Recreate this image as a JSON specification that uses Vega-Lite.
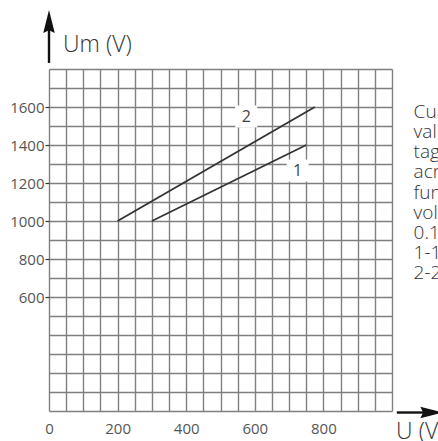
{
  "$schema": "https://vega.github.io/schema/vega-lite/v6.json",
  "autosize": "none",
  "width": 343,
  "height": 342,
  "padding": {"left": 49, "top": 69, "right": 46, "bottom": 30},
  "background": "white",
  "config": {
    "view": {"stroke": null},
    "font": "Open Sans"
  },
  "encoding": {
    "x": {"field": "u", "type": "quantitative",
      "scale": {"domain": [0, 1000], "nice": false, "zero": false},
      "axis": {
        "title": null,
        "values": [0,50,100,150,200,250,300,350,400,450,500,550,600,650,700,750,800,850,900,950,1000],
        "grid": true, "gridColor": "#808080", "gridWidth": 1.4,
        "domain": false, "ticks": false,
        "labelExpr": "(datum.value % 200 == 0 && datum.value <= 800) ? datum.label : ''",
        "labelOverlap": false, "labelFlush": false, "labelPadding": 10, "format": "d",
        "labelFont": "Open Sans", "labelFontSize": 15, "labelColor": "#555555"
      }},
    "y": {"field": "um", "type": "quantitative",
      "scale": {"domain": [0, 1800], "nice": false, "zero": false},
      "axis": {
        "title": null,
        "values": [0,100,200,300,400,500,600,700,800,900,1000,1100,1200,1300,1400,1500,1600,1700,1800],
        "grid": true, "gridColor": "#808080", "gridWidth": 1.4,
        "domain": false, "ticks": true, "tickSize": 4, "tickWidth": 1.2,
        "tickColor": {"condition": {"test": "datum.value >= 600 && datum.value <= 1600 && datum.value % 200 == 0", "value": "#333333"}, "value": "transparent"},
        "labelExpr": "(datum.value >= 600 && datum.value <= 1600 && datum.value % 200 == 0) ? datum.label : ''",
        "labelOverlap": false, "labelFlush": false, "labelPadding": 1, "format": "d",
        "labelFont": "Open Sans", "labelFontSize": 15, "labelColor": "#555555"
      }}
  },
  "layer": [
    {
      "data": {"values": [
        {"series": "1", "u": 300, "um": 1000},
        {"series": "1", "u": 750, "um": 1400},
        {"series": "2", "u": 200, "um": 1000},
        {"series": "2", "u": 775, "um": 1600}
      ]},
      "mark": {"type": "line", "color": "#333333", "strokeWidth": 1.8},
      "encoding": {
        "detail": {"field": "series"}
      }
    },
    {
      "data": {"values": [
        {"label": "2", "u": 575, "um": 1550},
        {"label": "1", "u": 725, "um": 1265}
      ]},
      "mark": {"type": "point", "shape": "square", "filled": true, "color": "white", "opacity": 1, "size": 484},
      "encoding": {}
    },
    {
      "data": {"values": [
        {"label": "2", "u": 575, "um": 1550},
        {"label": "1", "u": 725, "um": 1265}
      ]},
      "mark": {"type": "text", "fontSize": 16, "color": "#444444", "align": "center", "baseline": "middle"},
      "encoding": {
        "text": {"field": "label"}
      }
    },
    {
      "data": {"values": [
        {"u": 0, "um": 1832, "um2": 2030},
        {"u": 1014, "um": -8, "u2": 1100}
      ]},
      "mark": {"type": "rule", "color": "#111111", "strokeWidth": 2.4},
      "encoding": {
        "x2": {"field": "u2"},
        "y2": {"field": "um2"}
      }
    },
    {
      "data": {"values": [
        {"u": 0, "um": 2050, "dir": "up"}
      ]},
      "mark": {"type": "point", "shape": "M0,-1L0.5,1L0,0.75L-0.5,1Z", "filled": true, "color": "#111111", "opacity": 1, "size": 529},
      "encoding": {}
    },
    {
      "data": {"values": [
        {"u": 1116, "um": -8, "dir": "right"}
      ]},
      "mark": {"type": "point", "shape": "M1,0L-1,-0.5L-0.75,0L-1,0.5Z", "filled": true, "color": "#111111", "opacity": 1, "size": 529},
      "encoding": {}
    },
    {
      "data": {"values": [
        {"t": "Um (V)", "u": 41, "um": 1890},
        {"t": "U (V)", "u": 1012, "um": -145}
      ]},
      "mark": {"type": "text", "fontSize": 23, "color": "#333333", "fontWeight": 300, "align": "left", "baseline": "alphabetic"},
      "encoding": {
        "text": {"field": "t"}
      }
    },
    {
      "data": {"values": [
        {"t": "Curves", "u": 1063, "um": 1542},
        {"t": "values", "u": 1063, "um": 1436},
        {"t": "tage", "u": 1063, "um": 1330},
        {"t": "across", "u": 1063, "um": 1224},
        {"t": "function", "u": 1063, "um": 1118},
        {"t": "voltage", "u": 1063, "um": 1012},
        {"t": "0.1", "u": 1063, "um": 906},
        {"t": "1-1", "u": 1063, "um": 801},
        {"t": "2-2", "u": 1063, "um": 695}
      ]},
      "mark": {"type": "text", "fontSize": 19, "color": "#333333", "fontWeight": 300, "align": "left", "baseline": "alphabetic"},
      "encoding": {
        "text": {"field": "t"}
      }
    }
  ]
}
